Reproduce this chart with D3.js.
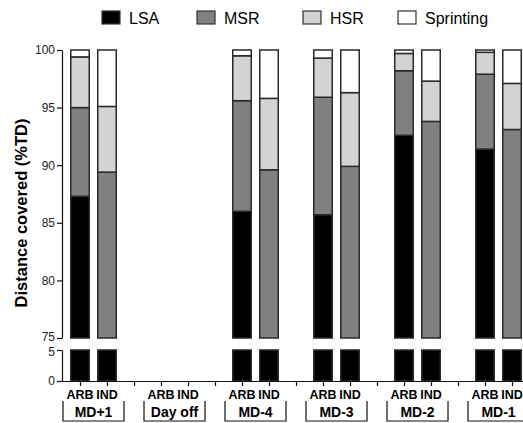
<!DOCTYPE html>
<html lang="en">
<head>
    <meta charset="UTF-8">
    <title>Distance covered</title>
    <script src="https://cdn.jsdelivr.net/npm/d3@7"></script>
    <style>
        body { margin: 0; background: #fff; }
        text { font-family: "Liberation Sans", Arial, sans-serif; }
    </style>
</head>
<body>
    <script>
        const days = ['MD+1', 'Day off', 'MD-4', 'MD-3', 'MD-2', 'MD-1'];
        const groups = ['ARB', 'IND'];
        const zones = ['LSA', 'MSR', 'HSR', 'Sprinting'];
        const colors = ['#000000', '#808080', '#d3d3d3', '#ffffff'];
        // % of total distance, per day (null = day off)
        const arbLSA = [87.3, null, 86.0, 85.7, 92.6, 91.4];
        const arbMSR = [7.7, null, 9.6, 10.2, 5.6, 6.5];
        const arbHSR = [4.4, null, 3.9, 3.4, 1.5, 1.9];
        const arbSpr = [0.6, null, 0.5, 0.7, 0.3, 0.2];
        const indLSA = [72.0, null, 72.0, 72.0, 72.0, 72.0];
        const indMSR = [17.4, null, 17.6, 17.9, 21.8, 21.1];
        const indHSR = [5.7, null, 6.2, 6.4, 3.5, 4.0];
        const indSpr = [4.9, null, 4.2, 3.7, 2.7, 2.9];
        const topTicks = [75, 80, 85, 90, 95, 100];
        const bottomTicks = [0, 5];

        const width = 523, height = 423;
        const svg = d3.select('body').append('svg').attr('width', width).attr('height', height);

        // one row per bar
        const rows = [];
        days.forEach((day, i) => {
            if (arbLSA[i] == null) return;
            rows.push({day: i, grp: 0, LSA: arbLSA[i], MSR: arbMSR[i], HSR: arbHSR[i], Sprinting: arbSpr[i]});
            rows.push({day: i, grp: 1, LSA: indLSA[i], MSR: indMSR[i], HSR: indHSR[i], Sprinting: indSpr[i]});
        });
        const series = d3.stack().keys(zones)(rows);

        // slot index: 3 per day (ARB, IND, gap)
        const x = d3.scaleLinear().domain([-2/3, 17]).range([62, 62 + 27 * 17.667]);
        const yTop = d3.scaleLinear().domain([75, 100]).range([338, 50]);
        const yBot = d3.scaleLinear().domain([0, 5]).range([381, 350]);
        const barW = 18.5;

        function drawPanel(y) {
            const [lo, hi] = y.domain();
            svg.append('g').selectAll('g').data(series).join('g')
                .attr('fill', (d, i) => colors[i])
                .selectAll('rect')
                .data(d => d.filter(s => Math.min(s[1], hi) > Math.max(s[0], lo)))
                .join('rect')
                .attr('x', s => x(3 * s.data.day + s.data.grp) - barW / 2)
                .attr('width', barW)
                .attr('y', s => y(Math.min(s[1], hi)))
                .attr('height', s => y(Math.max(s[0], lo)) - y(Math.min(s[1], hi)))
                .attr('stroke', '#2a2a2a')
                .attr('stroke-width', 1.5);
        }
        drawPanel(yTop);
        drawPanel(yBot);

        function styleAxis(g) {
            g.selectAll('path, line').attr('stroke', '#111').attr('stroke-width', 1.2);
            g.selectAll('text').attr('font-family', '"Liberation Sans", Arial, sans-serif').attr('fill', '#222');
        }

        const axTop = svg.append('g').attr('transform', 'translate(62,0)')
            .call(d3.axisLeft(yTop).tickValues(topTicks).tickSize(5).tickSizeOuter(0).tickPadding(2))
            .attr('font-size', 12).call(styleAxis);
        const axBot = svg.append('g').attr('transform', 'translate(62,0)')
            .call(d3.axisLeft(yBot).tickValues(bottomTicks).tickSize(5).tickSizeOuter(0).tickPadding(2)
                .tickFormat(d3.format('d')))
            .attr('font-size', 12).call(styleAxis);
        // keep the "75" and "5" labels at the axis break apart
        axTop.selectAll('.tick').filter(d => d === 75).select('text').attr('y', -1.5);
        axBot.selectAll('.tick').filter(d => d === 5).select('text').attr('y', 1.5);
        svg.append('g').attr('transform', 'translate(0,381)')
            .call(d3.axisBottom(x).tickValues(d3.range(0, 18)).tickSize(5).tickSizeOuter(0).tickFormat(''))
            .call(styleAxis);

        // group labels and brackets
        const lab = svg.append('g');
        days.forEach((day, i) => {
            groups.forEach((grp, j) => {
                lab.append('text').attr('x', x(3 * i + j)).attr('y', 399)
                    .attr('text-anchor', 'middle').attr('font-weight', 'bold').attr('font-size', 12.5)
                    .text(grp);
            });
            const cx = (x(3 * i) + x(3 * i + 1)) / 2;
            lab.append('path')
                .attr('d', `M${cx - 30.5},401V421H${cx + 30.5}V401`)
                .attr('fill', 'none').attr('stroke', '#111').attr('stroke-width', 1.2);
            lab.append('text').attr('x', cx).attr('y', 417)
                .attr('text-anchor', 'middle').attr('font-weight', 'bold').attr('font-size', 14)
                .text(day);
        });

        // y label
        svg.append('text')
            .attr('transform', 'translate(27,213) rotate(-90)')
            .attr('text-anchor', 'middle').attr('font-weight', 'bold').attr('font-size', 16.5)
            .text('Distance covered (%TD)');

        // legend
        const legendX = [102, 197, 303, 398];
        const legend = svg.append('g').selectAll('g').data(zones).join('g')
            .attr('transform', (d, i) => `translate(${legendX[i]},11)`);
        legend.append('rect').attr('width', 18).attr('height', 13)
            .attr('fill', (d, i) => colors[i]).attr('stroke', '#333').attr('stroke-width', 1.2);
        legend.append('text').attr('x', 27).attr('y', 12.5).attr('font-size', 16).text(d => d);
    </script>
</body>
</html>
